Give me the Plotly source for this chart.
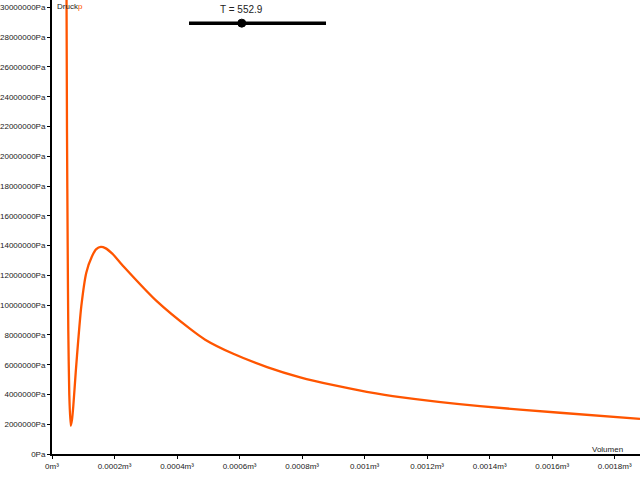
import plotly.graph_objects as go

# Volume (m^3) and pressure (Pa) of the curve p(V)
volume = [4.64e-5, 4.80e-5, 5.02e-5, 5.21e-5, 5.53e-5, 5.98e-5, 6.40e-5, 6.81e-5,
          7.58e-5, 8.41e-5, 9.37e-5, 1.097e-4, 1.280e-4, 1.417e-4, 1.563e-4, 1.705e-4,
          1.929e-4, 2.29e-4, 3.36e-4, 4.42e-4, 4.90e-4, 5.80e-4, 6.88e-4, 7.94e-4,
          9.01e-4, 1.007e-3, 1.114e-3, 1.369e-3, 1.625e-3, 1.881e-3]
pressure = [31.2e6, 21.6e6, 13.9e6, 8.3e6, 4.0e6, 1.9e6, 2.32e6, 3.21e6,
            5.47e6, 7.68e6, 9.92e6, 12.18e6, 13.28e6, 13.76e6, 13.91e6, 13.83e6,
            13.46e6, 12.60e6, 10.25e6, 8.40e6, 7.68e6, 6.73e6, 5.84e6, 5.15e6,
            4.62e6, 4.18e6, 3.82e6, 3.21e6, 2.77e6, 2.36e6]

x_tick_vals = [0, 0.0002, 0.0004, 0.0006, 0.0008, 0.001, 0.0012, 0.0014, 0.0016, 0.0018]
x_tick_text = ["0m³", "0.0002m³", "0.0004m³", "0.0006m³", "0.0008m³", "0.001m³",
               "0.0012m³", "0.0014m³", "0.0016m³", "0.0018m³"]
y_tick_vals = [i * 2000000 for i in range(16)]
y_tick_text = [f"{v}Pa" for v in y_tick_vals]

T_value = 552.9
slider_pos = 0.385  # slider knob position along the slider track (fraction)

curve_color = "#ff5500"
font_family = "Liberation Sans, Arial, sans-serif"

fig = go.Figure()
fig.add_trace(go.Scatter(
    x=volume, y=pressure, mode="lines",
    line=dict(color=curve_color, width=2.3, shape="spline", smoothing=0.6),
    hoverinfo="skip", showlegend=False,
))

fig.update_layout(
    width=640, height=480,
    margin=dict(l=52, r=0, t=0, b=26),
    paper_bgcolor="white", plot_bgcolor="white",
    font=dict(family=font_family, size=8, color="#222"),
    showlegend=False,
    xaxis=dict(
        range=[0, 0.001881], tickvals=x_tick_vals, ticktext=x_tick_text,
        showgrid=False, zeroline=False, showline=True, linecolor="black", linewidth=2,
        ticks="outside", ticklen=3, tickwidth=1, tickcolor="black", automargin=False,
        tickfont=dict(size=8, color="#222", family=font_family),
    ),
    yaxis=dict(
        range=[0, 30.5e6], tickvals=y_tick_vals, ticktext=y_tick_text,
        showgrid=False, zeroline=False, showline=True, linecolor="black", linewidth=2,
        ticks="outside", ticklen=3, tickwidth=1, tickcolor="black", automargin=False,
        tickfont=dict(size=8, color="#222", family=font_family),
    ),
)

# Slider decoration (T)
track_x0, track_x1, track_y = 0.233, 0.466, 0.949
knob_x = track_x0 + slider_pos * (track_x1 - track_x0)
fig.add_shape(type="line", xref="paper", yref="paper",
              x0=track_x0, x1=track_x1, y0=track_y, y1=track_y,
              line=dict(color="black", width=3.5))
fig.add_shape(type="circle", xref="paper", yref="paper",
              xsizemode="pixel", ysizemode="pixel",
              xanchor=knob_x, yanchor=track_y, x0=-4, x1=4, y0=-4, y1=4,
              fillcolor="black", line=dict(color="black", width=1))
fig.add_annotation(xref="paper", yref="paper", x=knob_x, y=0.978,
                   text=f"T = {T_value}", showarrow=False,
                   font=dict(size=10, color="#222", family=font_family),
                   xanchor="center", yanchor="middle")

# Axis labels
fig.add_annotation(xref="paper", yref="paper", x=0.005, y=0.985,
                   text=f"Druck<span style='color:{curve_color}'>p</span>",
                   showarrow=False, font=dict(size=8, color="#222", family=font_family),
                   xanchor="left", yanchor="middle")
fig.add_annotation(xref="paper", yref="paper", x=0.974, y=0.011,
                   text="Volumen", showarrow=False,
                   font=dict(size=8, color="#222", family=font_family),
                   xanchor="right", yanchor="middle")

fig.write_html("out.html", config={"displayModeBar": False},
               post_script="document.body.style.margin='0';")
